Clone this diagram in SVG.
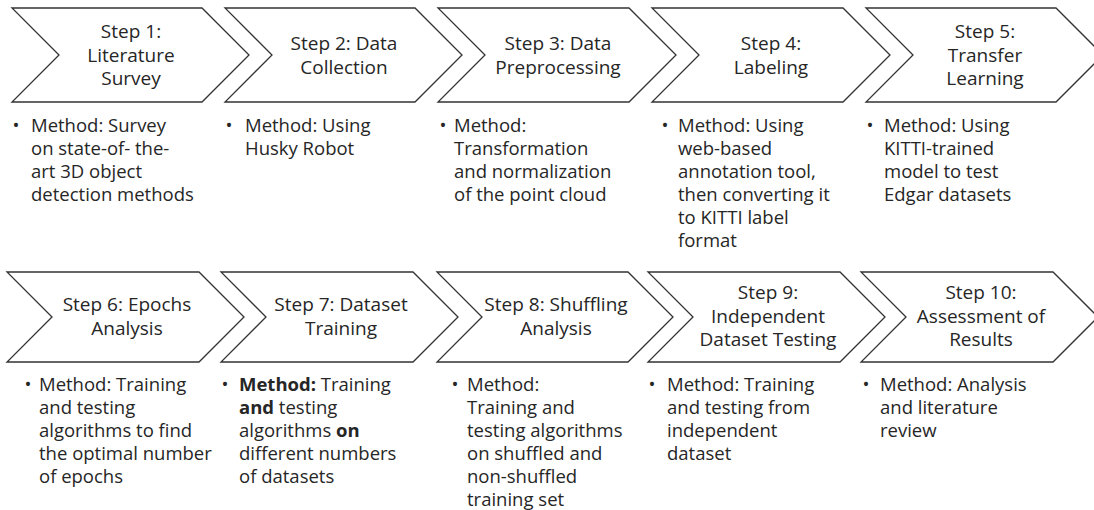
<svg xmlns="http://www.w3.org/2000/svg" width="1094" height="510" viewBox="0 0 1094 510">
<style>
.chev{fill:#ffffff;stroke:#333333;stroke-width:1.3;stroke-linejoin:miter}
text{font-family:"Open Sans","Noto Sans","Liberation Sans",sans-serif;font-size:18.5px;fill:#262626}
.t{text-anchor:middle;font-size:19px}
.b{text-anchor:middle}
.bold{font-weight:bold}
</style>
<rect width="1094" height="510" fill="#ffffff"/>
<g id="connectors"></g>

<g id="step1">
<polygon class="chev" points="12,8 202,8 249,55 202,102 12,102 59,55"/>
<text class="t"><tspan x="131" y="38">Step 1:</tspan><tspan x="131" y="61.5">Literature</tspan><tspan x="131" y="85">Survey</tspan></text>
<text class="b" x="16" y="132">•</text>
<text><tspan x="31" y="132">Method: Survey</tspan><tspan x="31" y="155">on state-of- the-</tspan><tspan x="31" y="178">art 3D object</tspan><tspan x="31" y="201">detection methods</tspan></text>
</g>

<g id="step2">
<polygon class="chev" points="225,8 415,8 462,55 415,102 225,102 272,55"/>
<text class="t"><tspan x="344" y="50">Step 2: Data</tspan><tspan x="344" y="73.5">Collection</tspan></text>
<text class="b" x="229" y="132">•</text>
<text><tspan x="245" y="132">Method: Using</tspan><tspan x="245" y="155">Husky Robot</tspan></text>
</g>

<g id="step3">
<polygon class="chev" points="438,8 629,8 676,55 629,102 438,102 485,55"/>
<text class="t"><tspan x="558" y="50">Step 3: Data</tspan><tspan x="558" y="73.5">Preprocessing</tspan></text>
<text class="b" x="443" y="132">•</text>
<text><tspan x="454" y="132">Method:</tspan><tspan x="454" y="155">Transformation</tspan><tspan x="454" y="178">and normalization</tspan><tspan x="454" y="201">of the point cloud</tspan></text>
</g>

<g id="step4">
<polygon class="chev" points="652,8 843,8 890,55 843,102 652,102 699,55"/>
<text class="t"><tspan x="771" y="50">Step 4:</tspan><tspan x="771" y="73.5">Labeling</tspan></text>
<text class="b" x="665" y="132">•</text>
<text><tspan x="678" y="132">Method: Using</tspan><tspan x="678" y="155">web-based</tspan><tspan x="678" y="178">annotation tool,</tspan><tspan x="678" y="201">then converting it</tspan><tspan x="678" y="224">to KITTI label</tspan><tspan x="678" y="247">format</tspan></text>
</g>

<g id="step5">
<polygon class="chev" points="866,8 1056,8 1103,55 1056,102 866,102 913,55"/>
<text class="t"><tspan x="985" y="38">Step 5:</tspan><tspan x="985" y="61.5">Transfer</tspan><tspan x="985" y="85">Learning</tspan></text>
<text class="b" x="870" y="132">•</text>
<text><tspan x="884" y="132">Method: Using</tspan><tspan x="884" y="155">KITTI-trained</tspan><tspan x="884" y="178">model to test</tspan><tspan x="884" y="201">Edgar datasets</tspan></text>
</g>

<g id="step6">
<polygon class="chev" points="7,272 199,272 244,317 199,362 7,362 52,317"/>
<text class="t"><tspan x="127" y="311">Step 6: Epochs</tspan><tspan x="127" y="334.5">Analysis</tspan></text>
<text class="b" x="28" y="390.5">•</text>
<text><tspan x="39" y="390.5">Method: Training</tspan><tspan x="39" y="413.5">and testing</tspan><tspan x="39" y="436.5">algorithms to find</tspan><tspan x="39" y="459.5">the optimal number</tspan><tspan x="39" y="482.5">of epochs</tspan></text>
</g>

<g id="step7">
<polygon class="chev" points="221,272 413,272 458,317 413,362 221,362 266,317"/>
<text class="t"><tspan x="341" y="311">Step 7: Dataset</tspan><tspan x="341" y="334.5">Training</tspan></text>
<text class="b" x="225" y="390.5">•</text>
<text><tspan x="239" y="390.5"><tspan class="bold">Method:</tspan> Training</tspan><tspan x="239" y="413.5"><tspan class="bold">and</tspan> testing</tspan><tspan x="239" y="436.5">algorithms <tspan class="bold">on</tspan></tspan><tspan x="239" y="459.5">different numbers</tspan><tspan x="239" y="482.5">of datasets</tspan></text>
</g>

<g id="step8">
<polygon class="chev" points="437,272 628,272 673,317 628,362 437,362 482,317"/>
<text class="t"><tspan x="556" y="311">Step 8: Shuffling</tspan><tspan x="556" y="334.5">Analysis</tspan></text>
<text class="b" x="455" y="390.5">•</text>
<text><tspan x="467" y="390.5">Method:</tspan><tspan x="467" y="413.5">Training and</tspan><tspan x="467" y="436.5">testing algorithms</tspan><tspan x="467" y="459.5">on shuffled and</tspan><tspan x="467" y="482.5">non-shuffled</tspan><tspan x="467" y="505.5">training set</tspan></text>
</g>

<g id="step9">
<polygon class="chev" points="648,272 840,272 885,317 840,362 648,362 693,317"/>
<text class="t"><tspan x="768" y="299">Step 9:</tspan><tspan x="768" y="322.5">Independent</tspan><tspan x="768" y="346">Dataset Testing</tspan></text>
<text class="b" x="652" y="390.5">•</text>
<text><tspan x="667" y="390.5">Method: Training</tspan><tspan x="667" y="413.5">and testing from</tspan><tspan x="667" y="436.5">independent</tspan><tspan x="667" y="459.5">dataset</tspan></text>
</g>

<g id="step10">
<polygon class="chev" points="861,272 1053,272 1098,317 1053,362 861,362 906,317"/>
<text class="t"><tspan x="981" y="299">Step 10:</tspan><tspan x="981" y="322.5">Assessment of</tspan><tspan x="981" y="346">Results</tspan></text>
<text class="b" x="866" y="390.5">•</text>
<text><tspan x="880" y="390.5">Method: Analysis</tspan><tspan x="880" y="413.5">and literature</tspan><tspan x="880" y="436.5">review</tspan></text>
</g>
</svg>
